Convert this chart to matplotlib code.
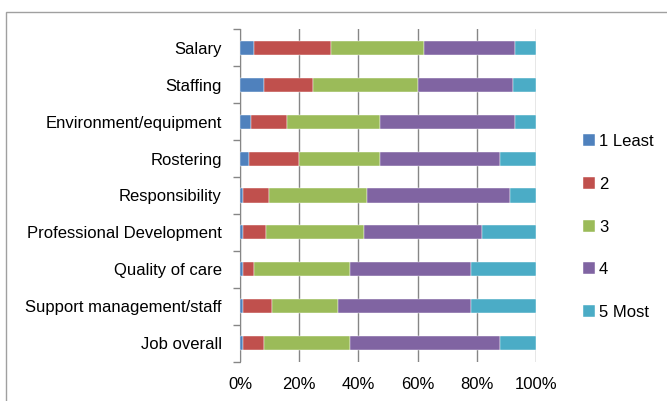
import numpy as np
import matplotlib.pyplot as plt
from matplotlib.patches import Rectangle

plt.rcParams['font.family'] = ['Liberation Sans', 'DejaVu Sans']

categories = ['Salary', 'Staffing', 'Environment/equipment', 'Rostering',
              'Responsibility', 'Professional Development', 'Quality of care',
              'Support management/staff', 'Job overall']
series_names = ['1 Least', '2', '3', '4', '5 Most']
least = [4.7, 8.0, 3.7, 2.9, 0.9, 0.9, 0.9, 0.9, 0.9]
two = [26.2, 16.5, 12.3, 17.0, 9.0, 8.0, 3.7, 9.9, 7.1]
three = [31.2, 35.8, 31.2, 27.3, 33.0, 33.1, 32.6, 22.2, 29.2]
four = [30.9, 32.0, 45.8, 40.7, 48.4, 39.8, 40.9, 45.1, 50.7]
most = [7.0, 7.7, 7.0, 12.1, 8.7, 18.2, 21.9, 21.9, 12.1]
colors = ['#4F81BD', '#C0504D', '#9BBB59', '#8064A2', '#4BACC6']

fig = plt.figure(figsize=(6.67, 4.01), dpi=100)
fig.patches.append(Rectangle((6 / 667, -0.1), 1.2, 1 - 12 / 401 + 0.1,
                             transform=fig.transFigure, fill=False,
                             edgecolor='#A0A0A0', linewidth=1.0))
ax = fig.add_axes([240 / 667, 1 - 361.7 / 401, 296 / 667, 332.4 / 401])

data = np.array([least, two, three, four, most])
data = data / data.sum(axis=0) * 100
y = np.arange(len(categories))[::-1]
left = np.zeros(len(categories))
for vals, name, c in zip(data, series_names, colors):
    ax.barh(y, vals, left=left, height=0.38, color=c, label=name,
            edgecolor='white', linewidth=0.3, zorder=3)
    left += vals

ax.set_xlim(0, 100)
ax.set_ylim(-0.5, len(categories) - 0.5)
ax.set_xticks(np.arange(0, 101, 20))
ax.set_xticklabels([f'{v}%' for v in range(0, 101, 20)], fontsize=12)
ax.set_yticks(y)
ax.set_yticklabels(categories, fontsize=12)
ax.set_yticks(np.arange(-0.5, len(categories), 1), minor=True)
ax.tick_params(axis='y', which='major', length=0, pad=13)
ax.tick_params(axis='y', which='minor', length=5, color='#868686', width=1)
ax.tick_params(axis='x', length=0, pad=11)
ax.grid(axis='x', color='#868686', linewidth=1, zorder=0)
for s in ['top', 'right', 'bottom']:
    ax.spines[s].set_visible(False)
ax.spines['left'].set_color('#868686')

ax.legend(loc='center left', bbox_to_anchor=(1.13, 0.405), frameon=False,
          fontsize=12, handlelength=0.72, handleheight=0.72, handletextpad=0.25,
          labelspacing=1.66, borderpad=0)

fig.savefig('out.png', dpi=100)
